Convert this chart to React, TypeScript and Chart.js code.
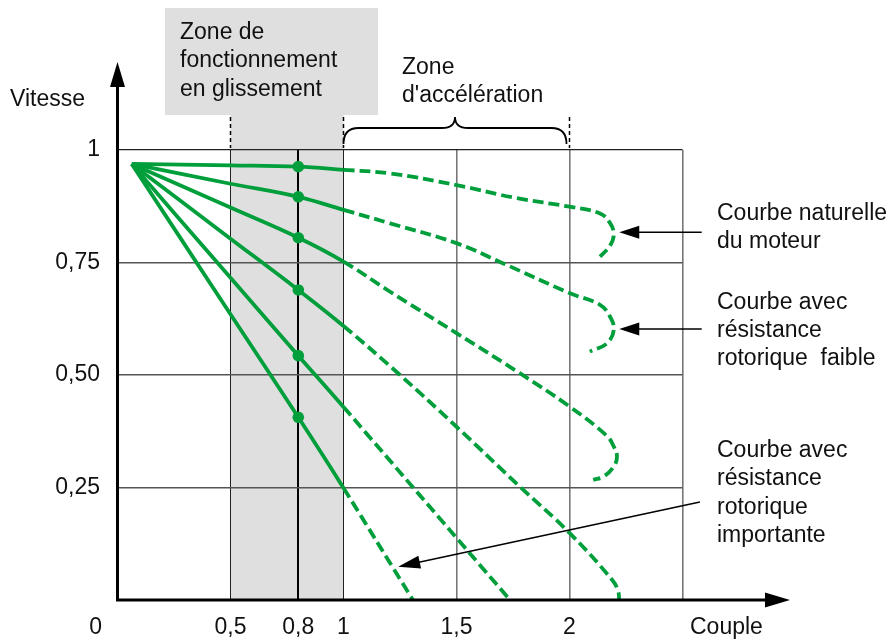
import { useEffect, useRef } from 'react';
import { Chart, registerables } from 'chart.js';

Chart.register(...registerables);

// ---- axis ticks ----
const xTickValues = [0, 0.5, 0.8, 1, 1.5, 2, 2.5];
const xTickLabels = ['', '0,5', '0,8', '1', '1,5', '2', ''];
const yTickValues = [0, 0.25, 0.5, 0.75, 1];
const yTickLabels = ['', '0,25', '0,50', '0,75', '1'];

// ---- curves (Couple, Vitesse) ----
const curve1X = [0.063, 0.5, 0.8, 1.0, 1.206, 1.5, 1.766, 2.0, 2.135, 2.179, 2.196, 2.179, 2.135];
const curve1Y = [0.969, 0.966, 0.963, 0.956, 0.948, 0.922, 0.893, 0.874, 0.859, 0.838, 0.813, 0.787, 0.763];

const curve2X = [0.063, 0.5, 0.8, 1.0, 1.206, 1.5, 1.707, 2.0, 2.135, 2.179, 2.196, 2.165, 2.09];
const curve2Y = [0.969, 0.925, 0.896, 0.867, 0.837, 0.793, 0.748, 0.682, 0.656, 0.63, 0.6, 0.57, 0.552];

const curve3X = [0.063, 0.5, 0.8, 1.0, 1.206, 1.5, 1.78, 2.0, 2.165, 2.196, 2.21, 2.194, 2.15, 2.105];
const curve3Y = [0.969, 0.872, 0.805, 0.752, 0.685, 0.593, 0.504, 0.43, 0.365, 0.341, 0.318, 0.295, 0.274, 0.267];

const curve4X = [0.063, 0.5, 0.8, 1.0, 1.25, 1.5, 1.78, 2.0, 2.19, 2.215, 2.22];
const curve4Y = [0.969, 0.803, 0.689, 0.609, 0.5, 0.385, 0.252, 0.149, 0.044, 0.02, 0];

const curve5X = [0.063, 0.5, 0.8, 1.0, 1.737];
const curve5Y = [0.969, 0.716, 0.543, 0.429, 0];

const curve6X = [0.063, 0.5, 0.8, 1.0, 1.307];
const curve6Y = [0.969, 0.635, 0.406, 0.249, 0];

const curvesX = [curve1X, curve2X, curve3X, curve4X, curve5X, curve6X];
const curvesY = [curve1Y, curve2Y, curve3Y, curve4Y, curve5Y, curve6Y];

const dotCouple = 0.8;
const dashFrom = 1;
const slipZone = [0.5, 1];
const accelZone = [1, 2];

const GREEN = '#009f3c';
const FONT = '23px "Liberation Sans", Arial, sans-serif';

function drawArrow(ctx: CanvasRenderingContext2D, x1: number, y1: number, x2: number, y2: number, len: number, half: number) {
  const a = Math.atan2(y2 - y1, x2 - x1);
  const c = Math.cos(a), s = Math.sin(a);
  ctx.beginPath();
  ctx.moveTo(x1, y1);
  ctx.lineTo(x2 - c * len * 0.8, y2 - s * len * 0.8);
  ctx.stroke();
  ctx.beginPath();
  ctx.moveTo(x2, y2);
  ctx.lineTo(x2 - c * len + s * half, y2 - s * len - c * half);
  ctx.lineTo(x2 - c * len - s * half, y2 - s * len + c * half);
  ctx.closePath();
  ctx.fill();
}

const annotatePlugin = {
  id: 'annotate',
  beforeDraw(chart: any) {
    const { ctx, chartArea, scales } = chart;
    const x = scales.x;
    ctx.save();
    ctx.fillStyle = '#e0dfe0';
    ctx.fillRect(165, 8, 213, 107);
    const l = x.getPixelForValue(slipZone[0]);
    const r = x.getPixelForValue(slipZone[1]);
    ctx.fillRect(l, 115, r - l, chartArea.bottom - 115);
    ctx.restore();
  },
  afterDraw(chart: any) {
    const { ctx, chartArea, scales } = chart;
    const x = scales.x, y = scales.y;
    const px = (v: number) => x.getPixelForValue(v);
    const py = (v: number) => y.getPixelForValue(v);
    const left = chartArea.left, bottom = chartArea.bottom;
    ctx.save();
    ctx.strokeStyle = '#000';
    ctx.fillStyle = '#000';

    // axes
    ctx.lineWidth = 3;
    ctx.lineJoin = 'miter';
    ctx.beginPath();
    ctx.moveTo(left, 80);
    ctx.lineTo(left, bottom);
    ctx.lineTo(772, bottom);
    ctx.stroke();
    ctx.beginPath();
    ctx.moveTo(left, 62);
    ctx.lineTo(left - 7.5, 87);
    ctx.lineTo(left + 7.5, 87);
    ctx.closePath();
    ctx.fill();
    ctx.beginPath();
    ctx.moveTo(790, bottom);
    ctx.lineTo(765, bottom - 7.5);
    ctx.lineTo(765, bottom + 7.5);
    ctx.closePath();
    ctx.fill();

    // dashed zone markers
    ctx.lineWidth = 1.5;
    ctx.setLineDash([4, 3]);
    [slipZone[0], slipZone[1], accelZone[1]].forEach((v) => {
      const xx = Math.round(px(v)) - 0.5;
      ctx.beginPath();
      ctx.moveTo(xx, 117);
      ctx.lineTo(xx, 148);
      ctx.stroke();
    });
    ctx.setLineDash([]);

    // brace
    const L = px(accelZone[0]);
    const R = px(accelZone[1]) - 3;
    const C = (L + R) / 2;
    ctx.lineWidth = 1.8;
    ctx.beginPath();
    ctx.moveTo(L, 144);
    ctx.quadraticCurveTo(L, 128, L + 15, 128);
    ctx.lineTo(C - 13, 128);
    ctx.quadraticCurveTo(C, 128, C, 117);
    ctx.quadraticCurveTo(C, 128, C + 13, 128);
    ctx.lineTo(R - 15, 128);
    ctx.quadraticCurveTo(R, 128, R, 144);
    ctx.stroke();

    // annotation arrows
    ctx.lineWidth = 1.5;
    drawArrow(ctx, px(2.585), py(0.817), px(2.22), py(0.817), 20, 6.5);
    drawArrow(ctx, px(2.585), py(0.602), px(2.22), py(0.602), 20, 6.5);
    drawArrow(ctx, px(2.577), py(0.218), px(1.242), py(0.074), 22, 6.5);

    // texts
    ctx.font = FONT;
    ctx.fillStyle = '#111';
    ctx.textAlign = 'left';
    ctx.textBaseline = 'alphabetic';
    const lines = (arr: string[], x0: number, y0: number, lh: number) =>
      arr.forEach((t, i) => ctx.fillText(t, x0, y0 + i * lh));
    lines(['Zone de', 'fonctionnement', 'en glissement'], 180, 38.5, 28.5);
    lines(['Zone', "d'accélération"], 402, 73.5, 28.3);
    lines(['Vitesse'], 10, 106, 28);
    lines(['Courbe naturelle', 'du moteur'], 717, 219.5, 28.8);
    lines(['Courbe avec', 'résistance', 'rotorique  faible'], 717, 308.5, 28.3);
    lines(['Courbe avec', 'résistance', 'rotorique', 'importante'], 717, 457, 28.3);

    ctx.textBaseline = 'middle';
    ctx.fillText('Couple', 690, 628);
    ctx.textAlign = 'right';
    ctx.fillText('0', 102, 628);
    ctx.restore();
  },
};

export default function App() {
  const ref = useRef<HTMLCanvasElement>(null);

  useEffect(() => {
    if (!ref.current) return;
    const datasets = curvesX.map((xs, k) => ({
      data: xs.map((v, i) => ({ x: v, y: curvesY[k][i] })),
      borderColor: GREEN,
      backgroundColor: GREEN,
      borderWidth: 3.8,
      tension: 0.4,
      fill: false,
      borderCapStyle: 'butt' as const,
      pointBorderWidth: 0,
      pointBackgroundColor: GREEN,
      pointRadius: (c: any) => (c.raw && c.raw.x === dotCouple ? 5.8 : 0),
      segment: {
        borderDash: (c: any) => (c.p0.parsed.x >= dashFrom - 0.001 ? [11, 5] : undefined),
      },
    }));

    const chart = new Chart(ref.current, {
      type: 'line',
      data: { datasets },
      options: {
        animation: false,
        responsive: false,
        devicePixelRatio: 1,
        events: [],
        layout: { padding: { top: 150, right: 210.5, left: 0, bottom: 0 } },
        plugins: { legend: { display: false }, tooltip: { enabled: false } },
        scales: {
          x: {
            type: 'linear',
            min: 0,
            max: 2.5,
            afterFit: (s: any) => { s.height = 39; },
            afterBuildTicks: (s: any) => { s.ticks = xTickValues.map((v) => ({ value: v })); },
            border: { display: false },
            grid: {
              drawTicks: false,
              color: (c: any) => {
                const v = c.tick.value;
                if (v === 0) return 'rgba(0,0,0,0)';
                if (v === 0.8) return '#000';
                if (v === 0.5 || v === 1) return '#222';
                return '#777';
              },
              lineWidth: (c: any) => {
                const v = c.tick.value;
                if (v === 0.8) return 2;
                if (v === 0.5 || v === 1) return 1;
                return 1.6;
              },
            },
            ticks: {
              autoSkip: false,
              maxRotation: 0,
              padding: 14.2,
              color: '#111',
              font: { family: '"Liberation Sans", Arial, sans-serif', size: 23 },
              callback: (_v: any, i: number) => xTickLabels[i],
            },
          },
          y: {
            type: 'linear',
            min: 0,
            max: 1,
            afterFit: (s: any) => { s.width = 117.5; },
            afterBuildTicks: (s: any) => { s.ticks = yTickValues.map((v) => ({ value: v })); },
            border: { display: false },
            grid: {
              drawTicks: false,
              color: (c: any) => {
                const v = c.tick.value;
                if (v === 0) return 'rgba(0,0,0,0)';
                if (v === 1) return '#222';
                return '#555';
              },
              lineWidth: (c: any) => (c.tick.value === 1 ? 1.2 : 1.4),
            },
            ticks: {
              padding: 17.5,
              color: '#111',
              font: { family: '"Liberation Sans", Arial, sans-serif', size: 23 },
              callback: (_v: any, i: number) => yTickLabels[i],
            },
          },
        },
      },
      plugins: [annotatePlugin],
    });
    return () => chart.destroy();
  }, []);

  return (
    <div style={{ position: 'absolute', left: 0, top: 0, width: 893, height: 639, background: '#fff' }}>
      <canvas ref={ref} width={893} height={639} style={{ display: 'block', width: 893, height: 639 }} />
    </div>
  );
}
